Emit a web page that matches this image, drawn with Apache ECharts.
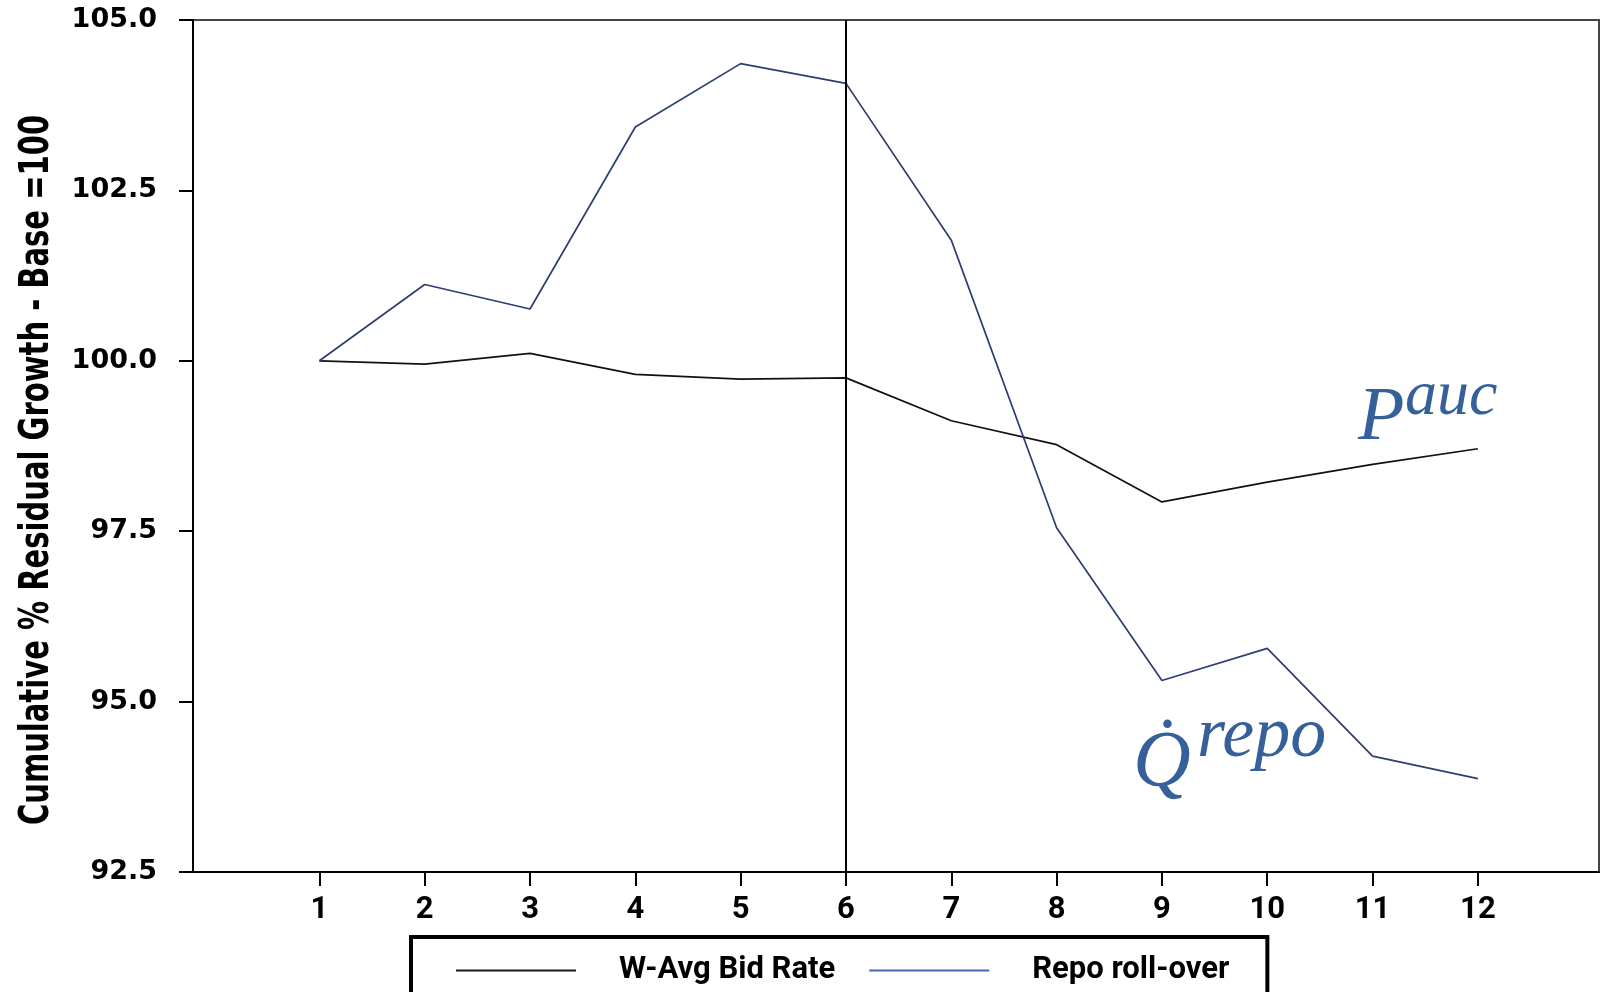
<!DOCTYPE html>
<html>
<head>
<meta charset="utf-8">
<script src="https://cdn.jsdelivr.net/npm/echarts@6/dist/echarts.min.js"></script>
<style>
html,body{margin:0;padding:0;background:#fff;}
#chart{width:1603px;height:992px;}
</style>
</head>
<body>
<div id="chart"></div>
<script>
const periods = [1,2,3,4,5,6,7,8,9,10,11,12];
const bidRate = [100.0, 99.95, 100.11, 99.8, 99.73, 99.75, 99.12, 98.77, 97.93, 98.22, 98.48, 98.71];
const repoRollover = [100.0, 101.12, 100.76, 103.43, 104.36, 104.07, 101.77, 97.55, 95.31, 95.78, 94.2, 93.87];
const eventPeriod = 6;
const seriesNames = ['W-Avg Bid Rate', 'Repo roll-over'];
const yTitle = 'Cumulative % Residual Growth - Base =100';

const chart = echarts.init(document.getElementById('chart'));
const narrow = 'Roboto, "Liberation Sans", sans-serif';
const cond = '"DejaVu Sans Condensed", "DejaVu Sans", sans-serif';
const wide = '"DejaVu Sans", Verdana, sans-serif';
const serif = '"Liberation Serif", "DejaVu Serif", serif';
const annColor = '#35609a';

chart.setOption({
  animation: false,
  backgroundColor: '#fff',
  grid: {left: 193, right: 4, top: 20, bottom: 120, show: true, borderColor: '#444', borderWidth: 2, containLabel: false},
  xAxis: {
    type: 'value', min: -0.2, max: 13.15,
    axisLine: {show: true, onZero: false, lineStyle: {color: '#000', width: 2}},
    axisTick: {show: true, length: 14, customValues: periods, lineStyle: {color: '#000', width: 2}},
    axisLabel: {customValues: periods, margin: 23, color: '#000', fontSize: 31, fontWeight: 'bold', fontFamily: narrow},
    splitLine: {show: false}
  },
  yAxis: {
    type: 'value', min: 92.5, max: 105, interval: 2.5,
    axisLine: {show: true, onZero: false, lineStyle: {color: '#000', width: 2}},
    axisTick: {show: true, length: 14, lineStyle: {color: '#000', width: 2}},
    axisLabel: {margin: 36, color: '#000', fontSize: 27, fontWeight: 'bold', fontFamily: wide,
      formatter: v => v.toFixed(1)},
    splitLine: {show: false}
  },
  legend: {
    left: 411, top: 937,
    padding: [18, 38, 40, 45],
    borderColor: '#000', borderWidth: 4,
    itemWidth: 120, itemHeight: 14, itemGap: 34,
    icon: 'path://M0,0 L120,0 L120,2 L0,2 Z',
    textStyle: {color: '#000', fontSize: 31, fontWeight: 'bold', fontFamily: narrow, padding: [0,0,0,38]},
    data: seriesNames
  },
  graphic: [
    {type: 'text', x: 38, y: 470, rotation: Math.PI/2, scaleX: 0.807, scaleY: 1,
      style: {text: yTitle, fill: '#000', font: 'bold 40px ' + cond, align: 'center', verticalAlign: 'middle'}},
    {type: 'text', x: 1358, y: 419, style: {text: 'P', fill: annColor, font: 'italic 76px ' + serif, align: 'left', verticalAlign: 'middle'}},
    {type: 'text', x: 1405, y: 397, style: {text: 'auc', fill: annColor, font: 'italic 64px ' + serif, align: 'left', verticalAlign: 'middle'}},
    {type: 'text', x: 1133, y: 765, style: {text: 'Q\u0307', fill: annColor, font: 'italic 80px ' + serif, align: 'left', verticalAlign: 'middle'}},
    {type: 'text', x: 1197, y: 737, style: {text: 'repo', fill: annColor, font: 'italic 72px ' + serif, align: 'left', verticalAlign: 'middle'}}
  ],
  series: [
    {name: seriesNames[0], type: 'line', symbol: 'none', color: '#1a1a1a',
      lineStyle: {color: '#111', width: 1.7},
      data: periods.map((p, i) => [p, bidRate[i]]),
      markLine: {silent: true, symbol: ['none','none'], label: {show: false},
        lineStyle: {color: '#000', width: 2, type: 'solid'},
        data: [{xAxis: eventPeriod}]}},
    {name: seriesNames[1], type: 'line', symbol: 'none', color: '#4a66b4',
      lineStyle: {color: '#2e3d72', width: 1.7},
      data: periods.map((p, i) => [p, repoRollover[i]])}
  ]
});
</script>
</body>
</html>
